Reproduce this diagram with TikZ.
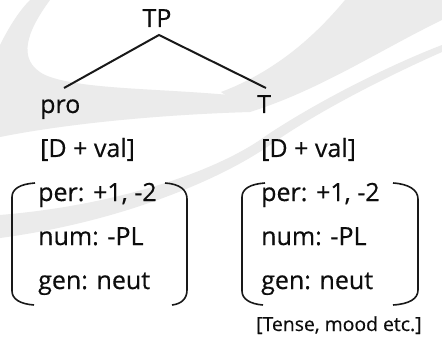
\documentclass[tikz,border=0pt]{standalone}
\usepackage{fontspec}
\setmainfont{Open Sans}[FakeBold=0.4]
\newfontfamily\lblfont{Open Sans}[FakeBold=0.4]
\begin{document}
\begin{tikzpicture}[x=1pt,y=-1pt,
  lbl/.style={inner sep=0pt,anchor=base west,font=\lblfont\fontsize{25}{30}\selectfont,text=black!95},
  small/.style={inner sep=0pt,anchor=base west,font=\lblfont\fontsize{19.4}{23}\selectfont,text=black!95},
  branch/.style={line width=2pt,black!90},
  brk/.style={line width=1.6pt,black!90},
  wm/.style={fill=black!8,draw=none}]
\useasboundingbox (0,0) rectangle (442,342);
\fill[white] (0,0) rectangle (442,342);
% watermark swooshes
\path[wm] (30,0) -- (50,0) .. controls (28,30) and (15,60) .. (45,75)
  .. controls (80,90) and (160,88) .. (240,96) -- (250,112)
  .. controls (150,115) and (60,125) .. (0,137) -- (0,45)
  .. controls (10,25) and (20,10) .. (30,0) -- cycle;
\path[wm] (221,92) .. controls (280,70) and (320,30) .. (345,0) -- (442,0) -- (442,20)
  .. controls (380,50) and (320,90) .. (250,112) -- cycle;
\path[wm] (0,215) .. controls (120,205) and (220,170) .. (267,135)
  .. controls (320,100) and (390,65) .. (442,45) -- (442,52)
  .. controls (390,75) and (320,110) .. (270,145)
  .. controls (220,180) and (120,222) .. (0,238) -- cycle;
% tree
\node[lbl,anchor=base] (tp) at (157,27) {TP};
\node[lbl] (pro) at (40,113) {pro};
\node[lbl] (t) at (257,113) {T};
\coordinate (apex) at (159,35);
\coordinate (proTop) at (64,88);
\coordinate (tTop) at (266,88);
\draw[branch] (proTop) -- (apex) -- (tTop);
\node[lbl] (dl) at (40,157) {[D + val]};
\node[lbl] (dr) at (261,157) {[D + val]};
\node[lbl] (perl) at (38,201) {per: +1, -2};
\node[lbl] (numl) at (38,245) {num: -PL};
\node[lbl] (genl) at (38,289) {gen: neut};
\node[lbl] (perr) at (261,201) {per: +1, -2};
\node[lbl] (numr) at (261,245) {num: -PL};
\node[lbl] (genr) at (261,289) {gen: neut};
\node[small] (tense) at (256,331) {[Tense, mood etc.]};
% brackets
\draw[brk] (35,183) .. controls (20,184) and (12,189) .. (12,197) -- (12,291)
  .. controls (12,299) and (20,304) .. (34,305);
\draw[brk] (165,183) .. controls (180,184) and (187,190) .. (187,199) -- (187,290)
  .. controls (187,299) and (181,304) .. (172,305);
\draw[brk] (265,183) .. controls (250,184) and (242,189) .. (242,197) -- (242,291)
  .. controls (242,299) and (250,304) .. (263,305);
\draw[brk] (393,183) .. controls (409,184) and (418,190) .. (418,199) -- (418,290)
  .. controls (418,299) and (409,304) .. (393,305);
\end{tikzpicture}
\end{document}
